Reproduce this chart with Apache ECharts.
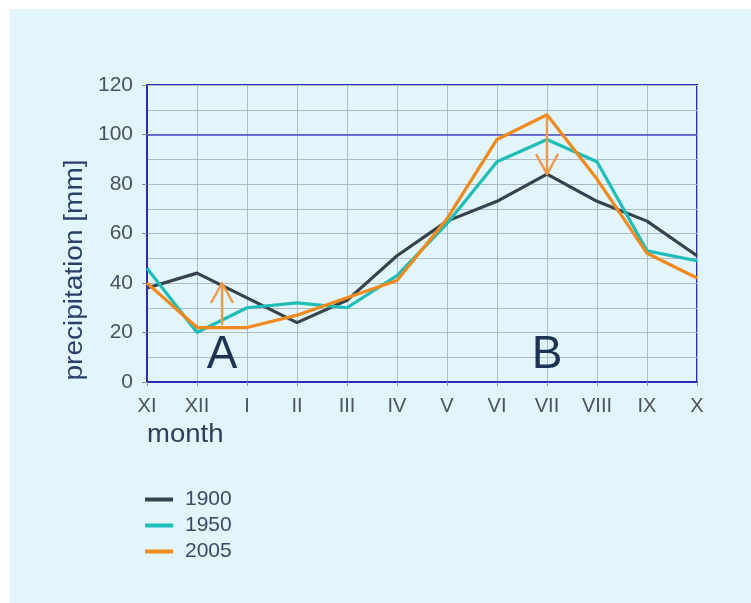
<!DOCTYPE html>
<html>
<head>
<meta charset="utf-8">
<script src="https://cdn.jsdelivr.net/npm/echarts@6/dist/echarts.min.js"></script>
<style>
  html, body { margin: 0; padding: 0; background: #ffffff; }
  #wrap { position: relative; width: 751px; height: 603px; background: #ffffff; overflow: hidden; }
  #panel { position: absolute; left: 10px; top: 9px; right: 0; bottom: 0; background: #e2f5fc; }
  #chart { position: absolute; left: 0; top: 0; width: 751px; height: 603px; }
</style>
</head>
<body>
<div id="wrap"><div id="panel"></div><div id="chart"></div></div>
<script>
const months = ['XI','XII','I','II','III','IV','V','VI','VII','VIII','IX','X'];
const yTicks = [0, 20, 40, 60, 80, 100, 120];
const p1900 = [38, 44, 34, 24, 33, 51, 65, 73, 84, 73, 65, 51];
const p1950 = [46, 20, 30, 32, 30, 43, 64, 89, 98, 89, 53, 49];
const p2005 = [40, 22, 22, 27, 34, 41, 66, 98, 108, 82, 52, 42];
const seriesNames = ['1900', '1950', '2005'];
const refLine = 100;
// arrows: [category index, from value, to value]
const arrowA = [1.5, 23, 40];
const arrowB = [8, 108, 84];
const labelA = [1.5, 1.5, 'A'];
const labelB = [8, 1.5, 'B'];

const FONT = 'Liberation Sans, Arial, sans-serif';
const colors = ['#36434b', '#1fbdb9', '#f18a1d'];
const chart = echarts.init(document.getElementById('chart'));

const option = {
  backgroundColor: 'transparent',
  animation: false,
  color: colors,
  grid: {
    left: 147, top: 85, width: 550, height: 297,
    show: true, borderColor: '#2a2ab5', borderWidth: 2, backgroundColor: 'transparent'
  },
  legend: {
    orient: 'vertical', left: 140, top: 484,
    itemWidth: 28, itemHeight: 4, itemGap: 5,
    icon: 'rect',
    textStyle: { fontFamily: FONT, fontSize: 21, color: '#3b4a68', padding: [0, 0, 0, 7] },
    data: seriesNames
  },
  xAxis: {
    type: 'category', data: months, boundaryGap: false,
    axisLine: { lineStyle: { color: '#2a2ab5', width: 2 } },
    axisTick: { show: true, length: 4, lineStyle: { color: '#8892a0' } },
    axisLabel: { fontFamily: FONT, fontSize: 20, color: '#4a5160', margin: 14 },
    splitLine: { show: true, lineStyle: { color: '#b0bac3', width: 1 } }
  },
  yAxis: {
    type: 'value', min: 0, max: 120, interval: 20,
    axisLine: { show: true, lineStyle: { color: '#2a2ab5', width: 2 } },
    axisTick: { show: true, length: 5, lineStyle: { color: '#8892a0' } },
    axisLabel: { fontFamily: FONT, fontSize: 21, color: '#4a5160', margin: 14,
      formatter: v => yTicks.includes(v) ? String(v) : '' },
    splitLine: { show: true, lineStyle: { color: '#b0bac3', width: 1 } },
    minorTick: { show: false, splitNumber: 2 },
    minorSplitLine: { show: true, lineStyle: { color: '#b0bac3', width: 1 } }
  },
  series: [
    { name: seriesNames[0], type: 'line', data: p1900, symbol: 'none', lineStyle: { width: 3.2, color: colors[0] },
      markLine: { silent: true, symbol: ['none', 'none'], label: { show: false },
        lineStyle: { color: '#4848c8', width: 1.5, type: 'solid' }, data: [{ yAxis: refLine }] }, z: 3 },
    { name: seriesNames[1], type: 'line', data: p1950, symbol: 'none', lineStyle: { width: 3.2, color: colors[1] }, z: 4 },
    { name: seriesNames[2], type: 'line', data: p2005, symbol: 'none', lineStyle: { width: 3.2, color: colors[2] }, z: 5 }
  ]
};
chart.setOption(option);

function px(idx, val) {
  const i0 = Math.floor(idx), i1 = Math.ceil(idx);
  const a = chart.convertToPixel({ gridIndex: 0 }, [i0, val]);
  const b = chart.convertToPixel({ gridIndex: 0 }, [i1, val]);
  const t = idx - i0;
  return [a[0] + (b[0] - a[0]) * t, a[1]];
}
function arrow(spec) {
  const s = px(spec[0], spec[1]);
  const e = px(spec[0], spec[2]);
  const dir = e[1] < s[1] ? 1 : -1; // 1 => pointing up
  const hw = 11, hl = 20;
  const st = { stroke: '#f09a48', lineWidth: 2.4, fill: null, lineJoin: 'round' };
  return [
    { type: 'line', shape: { x1: s[0], y1: s[1], x2: e[0], y2: e[1] }, style: st, z: 10 },
    { type: 'polyline', shape: { points: [[e[0] - hw, e[1] + dir * hl], [e[0], e[1]], [e[0] + hw, e[1] + dir * hl]] }, style: st, z: 10 }
  ];
}
function bigLabel(spec) {
  const p = px(spec[0], spec[1]);
  return { type: 'text', x: p[0], y: p[1], z: 10,
    style: { text: spec[2], font: '46px ' + FONT, fill: '#1e3256', textAlign: 'center', textVerticalAlign: 'bottom' } };
}
chart.setOption({
  graphic: [
    ...arrow(arrowA), ...arrow(arrowB), bigLabel(labelA), bigLabel(labelB),
    { type: 'text', x: 147, y: 423, scaleX: 1.1, style: { text: 'month', font: '25px ' + FONT, fill: '#2f3d5c' } },
    { type: 'text', x: 75, y: 270, rotation: Math.PI / 2, scaleX: 1.12,
      style: { text: 'precipitation [mm]', font: '25px ' + FONT, fill: '#2b3f6c', textAlign: 'center', textVerticalAlign: 'middle' } }
  ]
});
</script>
</body>
</html>
